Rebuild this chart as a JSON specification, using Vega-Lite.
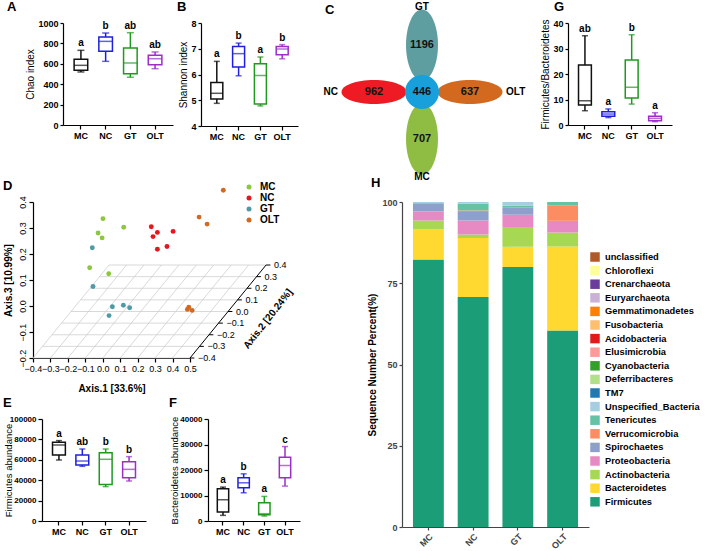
{
"$schema":"https://vega.github.io/schema/vega-lite/v6.json",
"background":"white",
"padding":{"left":2,"top":0,"right":0,"bottom":0},
"config":{
 "font":"Liberation Sans",
 "view":{"stroke":null},
 "axis":{"grid":false,"domainColor":"#000","tickColor":"#000","labelColor":"#000","titleColor":"#000","labelFontSize":9,"labelFontWeight":"bold","titleFontSize":10,"titleFontWeight":"normal","domainWidth":1.2,"tickWidth":1.2,"tickSize":3,"labelPadding":2,"titlePadding":2,"labelOverlap":false},
 "title":{"fontSize":13,"fontWeight":"bold","anchor":"start","frame":"bounds","offset":5,"color":"#000"}
},
"datasets":{
 "chao":[{"g":"MC","min":520,"q1":536,"med":585,"q3":644,"max":732,"sig":"a"},{"g":"NC","min":624,"q1":722,"med":820,"q3":863,"max":902,"sig":"b"},{"g":"GT","min":468,"q1":503,"med":608,"q3":755,"max":905,"sig":"ab"},{"g":"OLT","min":552,"q1":591,"med":650,"q3":683,"max":716,"sig":"ab"}],
 "shannon":[{"g":"MC","min":4.88,"q1":5.05,"med":5.27,"q3":5.69,"max":6.51,"sig":"a"},{"g":"NC","min":5.95,"q1":6.29,"med":6.81,"q3":7.09,"max":7.22,"sig":"b"},{"g":"GT","min":4.78,"q1":4.85,"med":5.96,"q3":6.42,"max":6.68,"sig":"a"},{"g":"OLT","min":6.61,"q1":6.77,"med":6.99,"q3":7.09,"max":7.16,"sig":"b"}],
 "fb":[{"g":"MC","min":5.6,"q1":7.8,"med":9.5,"q3":23.5,"max":35.0,"sig":"ab"},{"g":"NC","min":2.9,"q1":3.4,"med":4.3,"q3":5.2,"max":6.3,"sig":"a"},{"g":"GT","min":8.2,"q1":10.6,"med":14.8,"q3":25.5,"max":35.4,"sig":"b"},{"g":"OLT","min":1.3,"q1":1.7,"med":2.6,"q3":3.4,"max":4.8,"sig":"a"}],
 "firm":[{"g":"MC","min":59800,"q1":64700,"med":74500,"q3":77100,"max":78800,"sig":"a"},{"g":"NC","min":53600,"q1":54900,"med":58800,"q3":64700,"max":70600,"sig":"ab"},{"g":"GT","min":33700,"q1":35900,"med":60500,"q3":67000,"max":70600,"sig":"b"},{"g":"OLT","min":39200,"q1":42500,"med":50650,"q3":58200,"max":63100,"sig":"b"}],
 "bact":[{"g":"MC","min":2210,"q1":3520,"med":8340,"q3":12640,"max":13290,"sig":"a"},{"g":"NC","min":11070,"q1":13030,"med":14980,"q3":16940,"max":18500,"sig":"b"},{"g":"GT","min":1950,"q1":2480,"med":2870,"q3":7170,"max":9640,"sig":"a"},{"g":"OLT","min":13680,"q1":16940,"med":21760,"q3":25020,"max":29190,"sig":"c"}],
 "venn":[{"set":"NC","n":962,"petalX":-1,"petalY":0},{"set":"GT","n":1196,"petalX":0,"petalY":1},{"set":"OLT","n":637,"petalX":1,"petalY":0},{"set":"MC","n":707,"petalX":0,"petalY":-1},{"set":"core","n":446,"petalX":0,"petalY":0}],
 "pcoa":[
  {"group":"MC","h":0.001,"v":0.336},{"group":"MC","h":-0.027,"v":0.281},{"group":"MC","h":-0.004,"v":0.262},{"group":"MC","h":0.120,"v":0.303},{"group":"MC","h":-0.075,"v":0.147},{"group":"MC","h":0.034,"v":0.124},
  {"group":"NC","h":0.278,"v":0.305},{"group":"NC","h":0.288,"v":0.267},{"group":"NC","h":0.313,"v":0.283},{"group":"NC","h":0.403,"v":0.287},{"group":"NC","h":0.368,"v":0.229},{"group":"NC","h":0.313,"v":0.218},
  {"group":"GT","h":-0.060,"v":0.224},{"group":"GT","h":-0.056,"v":0.075},{"group":"GT","h":0.055,"v":-0.003},{"group":"GT","h":0.118,"v":0.003},{"group":"GT","h":0.154,"v":-0.007},{"group":"GT","h":0.036,"v":-0.037},
  {"group":"OLT","h":0.691,"v":0.445},{"group":"OLT","h":0.552,"v":0.342},{"group":"OLT","h":0.598,"v":0.315},{"group":"OLT","h":0.493,"v":-0.005},{"group":"OLT","h":0.485,"v":-0.013},{"group":"OLT","h":0.512,"v":-0.017}],
 "grid":[
  {"h":-0.4,"v":-0.2,"h2":0.5,"v2":-0.2},{"h":-0.3455,"v":-0.1553,"h2":0.5545,"v2":-0.1553},{"h":-0.291,"v":-0.1106,"h2":0.609,"v2":-0.1106},{"h":-0.2365,"v":-0.0659,"h2":0.6635,"v2":-0.0659},{"h":-0.182,"v":-0.0212,"h2":0.718,"v2":-0.0212},{"h":-0.1275,"v":0.0235,"h2":0.7725,"v2":0.0235},{"h":-0.073,"v":0.0682,"h2":0.827,"v2":0.0682},{"h":-0.0185,"v":0.1129,"h2":0.8815,"v2":0.1129},{"h":0.036,"v":0.1576,"h2":0.936,"v2":0.1576},
  {"h":-0.4,"v":-0.2,"h2":0.036,"v2":0.1576},{"h":-0.3,"v":-0.2,"h2":0.136,"v2":0.1576},{"h":-0.2,"v":-0.2,"h2":0.236,"v2":0.1576},{"h":-0.1,"v":-0.2,"h2":0.336,"v2":0.1576},{"h":0.0,"v":-0.2,"h2":0.436,"v2":0.1576},{"h":0.1,"v":-0.2,"h2":0.536,"v2":0.1576},{"h":0.2,"v":-0.2,"h2":0.636,"v2":0.1576},{"h":0.3,"v":-0.2,"h2":0.736,"v2":0.1576},{"h":0.4,"v":-0.2,"h2":0.836,"v2":0.1576}],
 "axis2":[{"h":0.5,"v":-0.2,"ht":0.525,"label":"−0.4"},{"h":0.5545,"v":-0.1553,"ht":0.5795,"label":"−0.3"},{"h":0.609,"v":-0.1106,"ht":0.634,"label":"−0.2"},{"h":0.6635,"v":-0.0659,"ht":0.6885,"label":"−0.1"},{"h":0.718,"v":-0.0212,"ht":0.743,"label":"0.0"},{"h":0.7725,"v":0.0235,"ht":0.7975,"label":"0.1"},{"h":0.827,"v":0.0682,"ht":0.852,"label":"0.2"},{"h":0.8815,"v":0.1129,"ht":0.9065,"label":"0.3"},{"h":0.936,"v":0.1576,"ht":0.961,"label":"0.4"}],
 "phylumOrder":[{"phylum":"Firmicutes","stackRank":1},{"phylum":"Bacteroidetes","stackRank":2},{"phylum":"Actinobacteria","stackRank":3},{"phylum":"Proteobacteria","stackRank":4},{"phylum":"Spirochaetes","stackRank":5},{"phylum":"Verrucomicrobia","stackRank":6},{"phylum":"Tenericutes","stackRank":7},{"phylum":"Unspecified_Bacteria","stackRank":8}],
 "phyla":[
  {"group":"MC","phylum":"Firmicutes","pct":82.3},{"group":"MC","phylum":"Bacteroidetes","pct":9.3},{"group":"MC","phylum":"Actinobacteria","pct":2.7},{"group":"MC","phylum":"Proteobacteria","pct":2.8},{"group":"MC","phylum":"Spirochaetes","pct":2.4},{"group":"MC","phylum":"Tenericutes","pct":0.2},{"group":"MC","phylum":"Unspecified_Bacteria","pct":0.3},
  {"group":"NC","phylum":"Firmicutes","pct":70.8},{"group":"NC","phylum":"Bacteroidetes","pct":18.1},{"group":"NC","phylum":"Actinobacteria","pct":1.1},{"group":"NC","phylum":"Proteobacteria","pct":4.3},{"group":"NC","phylum":"Spirochaetes","pct":2.6},{"group":"NC","phylum":"Verrucomicrobia","pct":0.5},{"group":"NC","phylum":"Tenericutes","pct":2.1},{"group":"NC","phylum":"Unspecified_Bacteria","pct":0.5},
  {"group":"GT","phylum":"Firmicutes","pct":80.0},{"group":"GT","phylum":"Bacteroidetes","pct":6.2},{"group":"GT","phylum":"Actinobacteria","pct":6.1},{"group":"GT","phylum":"Proteobacteria","pct":3.8},{"group":"GT","phylum":"Spirochaetes","pct":2.1},{"group":"GT","phylum":"Tenericutes","pct":0.7},{"group":"GT","phylum":"Unspecified_Bacteria","pct":1.1},
  {"group":"OLT","phylum":"Firmicutes","pct":60.5},{"group":"OLT","phylum":"Bacteroidetes","pct":25.8},{"group":"OLT","phylum":"Actinobacteria","pct":4.3},{"group":"OLT","phylum":"Proteobacteria","pct":3.6},{"group":"OLT","phylum":"Verrucomicrobia","pct":4.8},{"group":"OLT","phylum":"Tenericutes","pct":1.0}]
},
"spacing":-6,
"resolve":{"scale":{"color":"independent","stroke":"independent"}},
"vconcat":[
 {"spacing":3,"resolve":{"scale":{"color":"independent","stroke":"independent"}},
  "hconcat":[
   {"width":1,"height":1,"data":{"values":[]},"mark":{"type":"point","opacity":0},"encoding":{}},
   {"title":{"text":"A","dx":-19},"width":110,"height":102,"data":{"name":"chao"},
    "encoding":{"x":{"field":"g","type":"nominal","sort":["MC","NC","GT","OLT"],"scale":{"paddingInner":0.45,"paddingOuter":0.45},"axis":{"title":null,"labelAngle":0,"tickSize":4}}},
    "layer":[
     {"mark":{"type":"rule","strokeWidth":1.5},"encoding":{"y":{"field":"min","type":"quantitative","title":"Chao index","scale":{"domain":[0,1000],"nice":false},"axis":{"values":[0,200,400,600,800,1000],"tickCount":20,"format":"d"}},"y2":{"field":"max"},"color":{"field":"g","type":"nominal","scale":{"domain":["MC","NC","GT","OLT"],"range":["#111111","#1f1fdd","#1f9a1f","#9b2fc6"]},"legend":null}}},
     {"mark":{"type":"bar","fill":"white","strokeWidth":1.5},"encoding":{"y":{"field":"q1","type":"quantitative","title":"Chao index"},"y2":{"field":"q3"},"stroke":{"field":"g","type":"nominal","scale":{"domain":["MC","NC","GT","OLT"],"range":["#111111","#1f1fdd","#1f9a1f","#9b2fc6"]},"legend":null}}},
     {"mark":{"type":"tick","thickness":1.5,"size":14},"encoding":{"y":{"field":"med","type":"quantitative","title":"Chao index"},"color":{"field":"g","type":"nominal","legend":null}}},
     {"mark":{"type":"tick","thickness":1.5,"size":7},"encoding":{"y":{"field":"min","type":"quantitative","title":"Chao index"},"color":{"field":"g","type":"nominal","legend":null}}},
     {"mark":{"type":"tick","thickness":1.5,"size":7},"encoding":{"y":{"field":"max","type":"quantitative","title":"Chao index"},"color":{"field":"g","type":"nominal","legend":null}}},
     {"mark":{"type":"text","dy":-7,"fontSize":10,"fontWeight":"bold","color":"#000"},"encoding":{"y":{"field":"max","type":"quantitative","title":"Chao index"},"text":{"field":"sig"}}}
    ]},
   {"title":{"text":"B","dx":-2},"width":97,"height":103,"data":{"name":"shannon"},
    "encoding":{"x":{"field":"g","type":"nominal","sort":["MC","NC","GT","OLT"],"scale":{"paddingInner":0.45,"paddingOuter":0.45},"axis":{"title":null,"labelAngle":0,"tickSize":4}}},
    "layer":[
     {"mark":{"type":"rule","strokeWidth":1.5},"encoding":{"y":{"field":"min","type":"quantitative","title":"Shannon index","scale":{"domain":[4,8],"nice":false,"zero":false},"axis":{"values":[4,5,6,7,8],"tickCount":20,"format":"d"}},"y2":{"field":"max"},"color":{"field":"g","type":"nominal","scale":{"domain":["MC","NC","GT","OLT"],"range":["#111111","#1f1fdd","#1f9a1f","#9b2fc6"]},"legend":null}}},
     {"mark":{"type":"bar","fill":"white","strokeWidth":1.5},"encoding":{"y":{"field":"q1","type":"quantitative","title":"Shannon index"},"y2":{"field":"q3"},"stroke":{"field":"g","type":"nominal","scale":{"domain":["MC","NC","GT","OLT"],"range":["#111111","#1f1fdd","#1f9a1f","#9b2fc6"]},"legend":null}}},
     {"mark":{"type":"tick","thickness":1.5,"size":12},"encoding":{"y":{"field":"med","type":"quantitative","title":"Shannon index"},"color":{"field":"g","type":"nominal","legend":null}}},
     {"mark":{"type":"tick","thickness":1.5,"size":6},"encoding":{"y":{"field":"min","type":"quantitative","title":"Shannon index"},"color":{"field":"g","type":"nominal","legend":null}}},
     {"mark":{"type":"tick","thickness":1.5,"size":6},"encoding":{"y":{"field":"max","type":"quantitative","title":"Shannon index"},"color":{"field":"g","type":"nominal","legend":null}}},
     {"mark":{"type":"text","dy":-7,"fontSize":10,"fontWeight":"bold","color":"#000"},"encoding":{"y":{"field":"max","type":"quantitative","title":"Shannon index"},"text":{"field":"sig"}}}
    ]},
   {"title":{"text":"C","dx":24,"offset":-15},"width":236,"height":157,"data":{"name":"venn"},
    "encoding":{
     "x":{"field":"petalX","type":"quantitative","scale":{"domain":[-2.521,2.396],"nice":false,"zero":false},"axis":null},
     "y":{"field":"petalY","type":"quantitative","scale":{"domain":[-1.872,1.468],"nice":false,"zero":false},"axis":null}},
    "layer":[
     {"transform":[{"filter":"datum.petalY == 0 && datum.petalX != 0"}],"mark":{"type":"point","shape":"M-1,0A1,0.37,0,1,0,1,0A1,0.37,0,1,0,-1,0Z","size":4225,"filled":true,"opacity":1,"strokeWidth":0},
      "encoding":{"color":{"field":"set","type":"nominal","scale":{"domain":["NC","GT","OLT","MC","core"],"range":["#ee1b24","#5f9ea0","#d2691e","#8fbc42","#18a0dd"]},"legend":null}}},
     {"transform":[{"filter":"datum.petalX == 0 && datum.petalY != 0"}],"mark":{"type":"point","shape":"M0,-1A0.45,1,0,1,0,0,1A0.45,1,0,1,0,0,-1Z","size":5041,"filled":true,"opacity":1,"strokeWidth":0},
      "encoding":{"color":{"field":"set","type":"nominal","legend":null}}},
     {"transform":[{"filter":"datum.set == 'core'"}],"mark":{"type":"point","shape":"circle","size":1156,"filled":true,"opacity":1,"strokeWidth":0},
      "encoding":{"color":{"field":"set","type":"nominal","legend":null}}},
     {"mark":{"type":"text","fontSize":11,"fontWeight":"bold","color":"#111"},"encoding":{"text":{"field":"n"}}},
     {"transform":[{"filter":"datum.set == 'NC'"}],"mark":{"type":"text","align":"right","dx":-36,"fontSize":10,"fontWeight":"bold","color":"#000"},"encoding":{"text":{"field":"set"}}},
     {"transform":[{"filter":"datum.set == 'OLT'"}],"mark":{"type":"text","align":"left","dx":36,"fontSize":10,"fontWeight":"bold","color":"#000"},"encoding":{"text":{"field":"set"}}},
     {"transform":[{"filter":"datum.set == 'GT'"}],"mark":{"type":"text","dy":-38,"fontSize":10,"fontWeight":"bold","color":"#000"},"encoding":{"text":{"field":"set"}}},
     {"transform":[{"filter":"datum.set == 'MC'"}],"mark":{"type":"text","dy":38,"fontSize":10,"fontWeight":"bold","color":"#000"},"encoding":{"text":{"field":"set"}}}
    ]},
   {"title":{"text":"G","dx":13},"width":104,"height":102,"data":{"name":"fb"},
    "encoding":{"x":{"field":"g","type":"nominal","sort":["MC","NC","GT","OLT"],"scale":{"paddingInner":0.45,"paddingOuter":0.45},"axis":{"title":null,"labelAngle":0,"tickSize":4}}},
    "layer":[
     {"mark":{"type":"rule","strokeWidth":1.5},"encoding":{"y":{"field":"min","type":"quantitative","title":"Firmicutes/Bacteroidetes","scale":{"domain":[0,40],"nice":false},"axis":{"values":[0,10,20,30,40],"tickCount":20,"format":"d"}},"y2":{"field":"max"},"color":{"field":"g","type":"nominal","scale":{"domain":["MC","NC","GT","OLT"],"range":["#111111","#1f1fdd","#1f9a1f","#9b2fc6"]},"legend":null}}},
     {"mark":{"type":"bar","fill":"white","strokeWidth":1.5},"encoding":{"y":{"field":"q1","type":"quantitative","title":"Firmicutes/Bacteroidetes"},"y2":{"field":"q3"},"stroke":{"field":"g","type":"nominal","scale":{"domain":["MC","NC","GT","OLT"],"range":["#111111","#1f1fdd","#1f9a1f","#9b2fc6"]},"legend":null}}},
     {"mark":{"type":"tick","thickness":1.5,"size":13},"encoding":{"y":{"field":"med","type":"quantitative","title":"Firmicutes/Bacteroidetes"},"color":{"field":"g","type":"nominal","legend":null}}},
     {"mark":{"type":"tick","thickness":1.5,"size":6},"encoding":{"y":{"field":"min","type":"quantitative","title":"Firmicutes/Bacteroidetes"},"color":{"field":"g","type":"nominal","legend":null}}},
     {"mark":{"type":"tick","thickness":1.5,"size":6},"encoding":{"y":{"field":"max","type":"quantitative","title":"Firmicutes/Bacteroidetes"},"color":{"field":"g","type":"nominal","legend":null}}},
     {"mark":{"type":"text","dy":-7,"fontSize":10,"fontWeight":"bold","color":"#000"},"encoding":{"y":{"field":"max","type":"quantitative","title":"Firmicutes/Bacteroidetes"},"text":{"field":"sig"}}}
    ]}
  ]},
 {"spacing":67,"resolve":{"scale":{"color":"independent","stroke":"independent"}},
  "hconcat":[
   {"spacing":4,"resolve":{"scale":{"color":"independent","stroke":"independent"}},
    "vconcat":[
     {"spacing":0,"resolve":{"scale":{"color":"independent","stroke":"independent"}},
      "hconcat":[
       {"width":1,"height":1,"data":{"values":[]},"mark":{"type":"point","opacity":0},"encoding":{}},
       {"title":{"text":"D","offset":-11},"width":157,"height":156,
        "layer":[
         {"data":{"name":"grid"},"mark":{"type":"rule","color":"#c8c8c8","strokeWidth":0.7},
          "encoding":{"x":{"field":"h","type":"quantitative","title":"Axis.1 [33.6%]","scale":{"domain":[-0.4,0.5],"nice":false,"zero":false},"axis":{"values":[-0.4,-0.3,-0.2,-0.1,0,0.1,0.2,0.3,0.4,0.5],"tickCount":20,"format":".1f","labelFontWeight":"normal","labelFontSize":9,"labelFlush":false,"titleFontWeight":"bold","titlePadding":10,"tickSize":4,"labelPadding":2}},
                      "y":{"field":"v","type":"quantitative","title":"Axis.3 [10.99%]","scale":{"domain":[-0.2,0.4],"nice":false,"zero":false},"axis":{"values":[-0.2,-0.1,0,0.1,0.2,0.3,0.4],"tickCount":20,"format":".1f","labelAngle":-90,"labelAlign":"center","labelBaseline":"bottom","labelFontWeight":"normal","labelFontSize":9,"labelFlush":false,"titleFontWeight":"bold","titlePadding":3,"tickSize":4,"labelPadding":2,"minExtent":17,"maxExtent":17}},
                      "x2":{"field":"h2"},"y2":{"field":"v2"}}},
         {"data":{"values":[{"h":0.5,"v":-0.2,"h2":0.936,"v2":0.1576}]},"mark":{"type":"rule","color":"#000","strokeWidth":1},
          "encoding":{"x":{"field":"h","type":"quantitative","title":"Axis.1 [33.6%]"},"y":{"field":"v","type":"quantitative","title":"Axis.3 [10.99%]"},"x2":{"field":"h2"},"y2":{"field":"v2"}}},
         {"data":{"name":"axis2"},"mark":{"type":"rule","color":"#000","strokeWidth":1},
          "encoding":{"x":{"field":"h","type":"quantitative","title":"Axis.1 [33.6%]"},"y":{"field":"v","type":"quantitative","title":"Axis.3 [10.99%]"},"x2":{"field":"ht"}}},
         {"data":{"name":"axis2"},"mark":{"type":"text","align":"left","dx":8,"fontSize":9,"color":"#000"},
          "encoding":{"x":{"field":"h","type":"quantitative","title":"Axis.1 [33.6%]"},"y":{"field":"v","type":"quantitative","title":"Axis.3 [10.99%]"},"text":{"field":"label"}}},
         {"data":{"values":[{"h":0.947,"v":-0.05,"label":"Axis.2 [20.24%]"}]},"mark":{"type":"text","angle":-52,"fontSize":10,"fontWeight":"bold","color":"#000"},
          "encoding":{"x":{"field":"h","type":"quantitative","title":"Axis.1 [33.6%]"},"y":{"field":"v","type":"quantitative","title":"Axis.3 [10.99%]"},"text":{"field":"label"}}},
         {"data":{"name":"pcoa"},"mark":{"type":"circle","size":24,"opacity":1},
          "encoding":{"x":{"field":"h","type":"quantitative","title":"Axis.1 [33.6%]"},"y":{"field":"v","type":"quantitative","title":"Axis.3 [10.99%]"},
                      "color":{"field":"group","type":"nominal","scale":{"domain":["MC","NC","GT","OLT"],"range":["#8dc63f","#e8161b","#4e9aa6","#d2691e"]},
                               "legend":{"orient":"none","legendX":211,"legendY":-20,"title":null,"labelFontSize":10,"labelFontWeight":"bold","symbolSize":25,"symbolType":"circle","rowPadding":1,"labelOffset":6}}}}
        ]}
      ]},
     {"spacing":0,"resolve":{"scale":{"color":"independent","stroke":"independent"}},
      "hconcat":[
       {"width":1,"height":1,"data":{"values":[]},"mark":{"type":"point","opacity":0},"encoding":{}},
       {"spacing":23,"resolve":{"scale":{"color":"independent","stroke":"independent"}},
        "hconcat":[
         {"title":{"text":"E"},"width":104,"height":102,"data":{"name":"firm"},
          "encoding":{"x":{"field":"g","type":"nominal","sort":["MC","NC","GT","OLT"],"scale":{"paddingInner":0.45,"paddingOuter":0.45},"axis":{"title":null,"labelAngle":0,"tickSize":4}}},
          "layer":[
           {"mark":{"type":"rule","strokeWidth":1.5},"encoding":{"y":{"field":"min","type":"quantitative","title":"Firmicutes abundance","scale":{"domain":[0,100000],"nice":false},"axis":{"values":[0,20000,40000,60000,80000,100000],"tickCount":20,"format":"d","titlePadding":1,"labelFontSize":8,"titleFontSize":9.5,"tickSize":4,"labelPadding":2,"minExtent":28,"maxExtent":28}},"y2":{"field":"max"},"color":{"field":"g","type":"nominal","scale":{"domain":["MC","NC","GT","OLT"],"range":["#111111","#1f1fdd","#1f9a1f","#9b2fc6"]},"legend":null}}},
           {"mark":{"type":"bar","fill":"white","strokeWidth":1.5},"encoding":{"y":{"field":"q1","type":"quantitative","title":"Firmicutes abundance"},"y2":{"field":"q3"},"stroke":{"field":"g","type":"nominal","scale":{"domain":["MC","NC","GT","OLT"],"range":["#111111","#1f1fdd","#1f9a1f","#9b2fc6"]},"legend":null}}},
           {"mark":{"type":"tick","thickness":1.5,"size":13},"encoding":{"y":{"field":"med","type":"quantitative","title":"Firmicutes abundance"},"color":{"field":"g","type":"nominal","legend":null}}},
           {"mark":{"type":"tick","thickness":1.5,"size":6},"encoding":{"y":{"field":"min","type":"quantitative","title":"Firmicutes abundance"},"color":{"field":"g","type":"nominal","legend":null}}},
           {"mark":{"type":"tick","thickness":1.5,"size":6},"encoding":{"y":{"field":"max","type":"quantitative","title":"Firmicutes abundance"},"color":{"field":"g","type":"nominal","legend":null}}},
           {"mark":{"type":"text","dy":-7,"fontSize":10,"fontWeight":"bold","color":"#000"},"encoding":{"y":{"field":"max","type":"quantitative","title":"Firmicutes abundance"},"text":{"field":"sig"}}}
          ]},
         {"title":{"text":"F"},"width":92,"height":102,"data":{"name":"bact"},
          "encoding":{"x":{"field":"g","type":"nominal","sort":["MC","NC","GT","OLT"],"scale":{"paddingInner":0.45,"paddingOuter":0.45},"axis":{"title":null,"labelAngle":0,"tickSize":4}}},
          "layer":[
           {"mark":{"type":"rule","strokeWidth":1.5},"encoding":{"y":{"field":"min","type":"quantitative","title":"Bacteroidetes abundance","scale":{"domain":[0,40000],"nice":false},"axis":{"values":[0,10000,20000,30000,40000],"tickCount":20,"format":"d","titlePadding":1,"labelFontSize":8,"titleFontSize":9.5,"tickSize":4,"labelPadding":2,"minExtent":28,"maxExtent":28}},"y2":{"field":"max"},"color":{"field":"g","type":"nominal","scale":{"domain":["MC","NC","GT","OLT"],"range":["#111111","#1f1fdd","#1f9a1f","#9b2fc6"]},"legend":null}}},
           {"mark":{"type":"bar","fill":"white","strokeWidth":1.5},"encoding":{"y":{"field":"q1","type":"quantitative","title":"Bacteroidetes abundance"},"y2":{"field":"q3"},"stroke":{"field":"g","type":"nominal","scale":{"domain":["MC","NC","GT","OLT"],"range":["#111111","#1f1fdd","#1f9a1f","#9b2fc6"]},"legend":null}}},
           {"mark":{"type":"tick","thickness":1.5,"size":11},"encoding":{"y":{"field":"med","type":"quantitative","title":"Bacteroidetes abundance"},"color":{"field":"g","type":"nominal","legend":null}}},
           {"mark":{"type":"tick","thickness":1.5,"size":6},"encoding":{"y":{"field":"min","type":"quantitative","title":"Bacteroidetes abundance"},"color":{"field":"g","type":"nominal","legend":null}}},
           {"mark":{"type":"tick","thickness":1.5,"size":6},"encoding":{"y":{"field":"max","type":"quantitative","title":"Bacteroidetes abundance"},"color":{"field":"g","type":"nominal","legend":null}}},
           {"mark":{"type":"text","dy":-7,"fontSize":10,"fontWeight":"bold","color":"#000"},"encoding":{"y":{"field":"max","type":"quantitative","title":"Bacteroidetes abundance"},"text":{"field":"sig"}}}
          ]}
        ]}
      ]}
    ]},
   {"title":{"text":"H","dx":3,"offset":8},"width":187,"height":325,"data":{"name":"phyla"},
    "transform":[{"lookup":"phylum","from":{"data":{"name":"phylumOrder"},"key":"phylum","fields":["stackRank"]}}],
    "mark":{"type":"bar"},
    "encoding":{
     "x":{"field":"group","type":"nominal","sort":["MC","NC","GT","OLT"],"scale":{"paddingInner":0.31,"paddingOuter":0.245},"axis":{"title":null,"labelAngle":-45,"labelColor":"#444","domainColor":"#444","tickColor":"#444","labelFontSize":9,"tickSize":3,"labelPadding":2}},
     "y":{"field":"pct","type":"quantitative","stack":"zero","scale":{"domain":[0,100],"nice":false},"axis":{"values":[0,25,50,75,100],"tickCount":20,"title":"Sequence Number Percent(%)","titleFontWeight":"bold","titlePadding":4,"labelColor":"#444","domainColor":"#444","tickColor":"#444","tickSize":3}},
     "order":{"field":"stackRank","type":"quantitative","sort":"ascending"},
     "color":{"field":"phylum","type":"nominal",
      "scale":{"domain":["Firmicutes","Bacteroidetes","Actinobacteria","Proteobacteria","Spirochaetes","Verrucomicrobia","Tenericutes","Unspecified_Bacteria","TM7","Deferribacteres","Cyanobacteria","Elusimicrobia","Acidobacteria","Fusobacteria","Gemmatimonadetes","Euryarchaeota","Crenarchaeota","Chloroflexi","unclassified"],
               "range":["#1b9e77","#ffd92f","#a6d854","#e78ac3","#8da0cb","#fc8d62","#66c2a5","#a6cee3","#1f78b4","#b2df8a","#33a02c","#fb9a99","#e31a1c","#fdbf6f","#ff7f00","#cab2d6","#6a3d9a","#ffff99","#b15928"]},
      "legend":{"orient":"none","legendX":188,"legendY":50,"padding":0,"title":null,
       "values":["unclassified","Chloroflexi","Crenarchaeota","Euryarchaeota","Gemmatimonadetes","Fusobacteria","Acidobacteria","Elusimicrobia","Cyanobacteria","Deferribacteres","TM7","Unspecified_Bacteria","Tenericutes","Verrucomicrobia","Spirochaetes","Proteobacteria","Actinobacteria","Bacteroidetes","Firmicutes"],
       "symbolType":"square","symbolSize":90,"symbolStrokeWidth":0,"labelFontSize":9.3,"labelFontWeight":"bold","labelOffset":5,"rowPadding":2.6,"labelLimit":200}}
    }}
  ]}
]
}
